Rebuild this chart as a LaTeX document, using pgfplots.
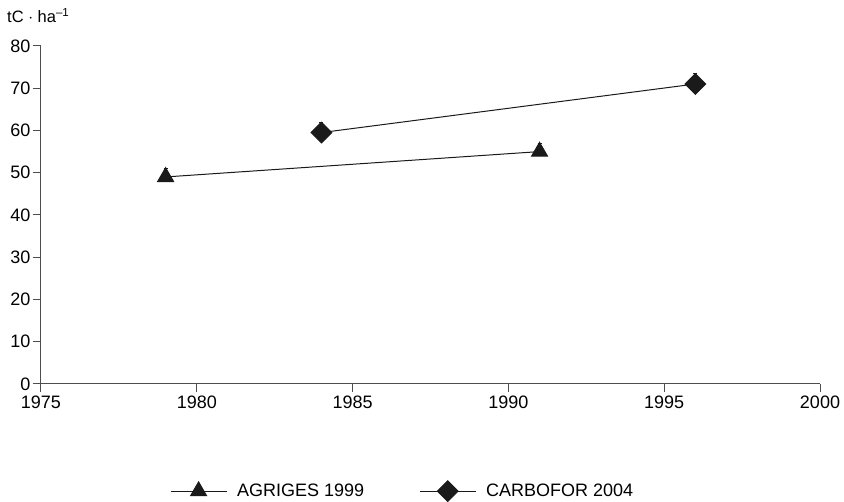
\documentclass[border=0pt]{standalone}
\usepackage{fontspec}
\setmainfont{Liberation Sans}
\usepackage{pgfplots}
\pgfplotsset{compat=1.18}
\definecolor{axgray}{HTML}{4D4D4D}
\definecolor{ink}{HTML}{1A1A1A}

\begin{document}
\begin{tikzpicture}
  \begin{axis}[
    scale only axis,
    width=779bp, height=338bp,
    xmin=1975, xmax=2000, ymin=0, ymax=80,
    xtick={1975,1980,...,2000},
    ytick={0,10,...,80},
    axis lines*=left,
    axis line style={axgray, line width=1bp},
    tick style={axgray, line width=1bp},
    tick align=outside, major tick length=8bp,
    font=\fontsize{18bp}{21bp}\selectfont,
    /pgf/number format/assume math mode=true,
    /pgf/number format/1000 sep={},
    yticklabel style={xshift=1bp},
    clip=false,
    legend columns=2,
    legend style={draw=none, fill=none, at={(0.463,-0.317)}, anchor=center,
      inner sep=0pt,
      nodes={inner sep=0pt},
      /tikz/every odd column/.append style={column sep=10bp},
      /tikz/every even column/.append style={column sep=55bp},
      font=\fontsize{18bp}{21bp}\selectfont},
    legend image code/.code={
      \draw[#1, mark repeat=2, mark phase=2] plot coordinates {(0bp,0bp) (28bp,0bp) (56bp,0bp)};
    },
  ]
    \addplot[ink, line width=1bp, mark=triangle*, mark size=9.2bp,
      mark options={solid, fill=ink},
      error bars/.cd, y dir=plus, y explicit,
      error bar style={ink, line width=1bp},
      error mark options={rotate=90, mark size=2bp, ink, line width=1bp}]
      coordinates {(1979,49) +- (0,2) (1991,55) +- (0,2)};
    \addlegendentry{AGRIGES 1999}
    \addplot[ink, line width=1bp, mark=square*, mark size=7.3bp,
      mark options={solid, fill=ink, rotate=45},
      error bars/.cd, y dir=plus, y explicit,
      error bar style={ink, line width=1bp},
      error mark options={rotate=90, mark size=2bp, ink, line width=1bp}]
      coordinates {(1984,59.5) +- (0,2.5) (1996,71) +- (0,2.5)};
    \addlegendentry{CARBOFOR 2004}
    \node[anchor=base west, inner sep=0pt, font=\fontsize{16.5bp}{19bp}\selectfont]
      at (rel axis cs:-0.0436,1.068) {tC $\cdot$ ha\textsuperscript{–1}};
    % fix the page to the reference margins
    \path (rel axis cs:-0.0526,1.136) (rel axis cs:1.0308,-0.346);
  \end{axis}
\end{tikzpicture}
\end{document}
